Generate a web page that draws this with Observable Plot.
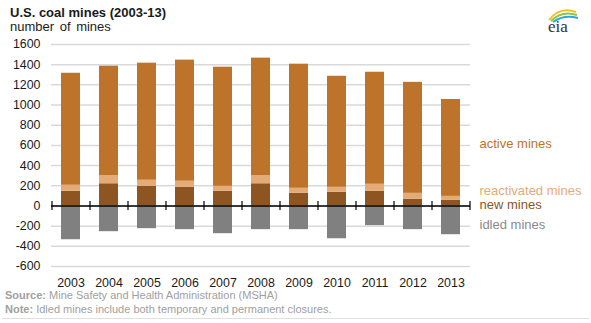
<!DOCTYPE html>
<html>
<head>
<meta charset="utf-8">
<script src="https://cdn.jsdelivr.net/npm/d3@7"></script>
<script src="https://cdn.jsdelivr.net/npm/@observablehq/plot@0.6"></script>
<style>
  html, body { margin: 0; padding: 0; background: #fff; }
  #wrap { position: relative; width: 591px; height: 323px; overflow: hidden; font-family: "Liberation Sans", Arial, sans-serif; }
  #chart { position: absolute; left: 0; top: 0; }
  .title { position: absolute; left: 10px; top: 5px; font-size: 13px; font-weight: bold; color: #1a1a1a; }
  .subtitle { position: absolute; left: 10px; top: 19px; font-size: 13px; color: #1a1a1a; word-spacing: 2px; }
  .foot { position: absolute; left: 5px; font-size: 11px; color: #a0a0a0; white-space: nowrap; }
  .foot b { font-weight: bold; }
  .rule { position: absolute; left: 2px; width: 587px; top: 318px; height: 1px; background: #e0e0e0; }
  .logo { position: absolute; left: 540px; top: 4px; }
</style>
</head>
<body>
<div id="wrap">
  <div id="chart"></div>
  <div class="title">U.S. coal mines (2003-13)</div>
  <div class="subtitle">number of mines</div>
  <div class="foot" style="top:289px"><b>Source:</b> Mine Safety and Health Administration (MSHA)</div>
  <div class="foot" style="top:303px"><b>Note:</b> Idled mines include both temporary and permanent closures.</div>
  <div class="rule"></div>
  <svg class="logo" width="45" height="32" viewBox="0 0 45 32">
    <path d="M9 16 Q20 2 36 8" fill="none" stroke="#f2c12e" stroke-width="2"/>
    <path d="M11 17 Q22 6 37 11" fill="none" stroke="#8dc63f" stroke-width="2"/>
    <path d="M13 18 Q24 10 38 14" fill="none" stroke="#29a8e0" stroke-width="2"/>
    <text x="8" y="28" font-family="Liberation Serif, serif" font-size="17" fill="#333">eia</text>
  </svg>
</div>
<script>
const years = ["2003","2004","2005","2006","2007","2008","2009","2010","2011","2012","2013"];
const newMines     = [145, 220, 195, 185, 145, 220, 125, 135, 145, 65, 55];
const reactivated  = [60, 80, 60, 60, 50, 80, 50, 50, 70, 60, 40];
const totalMines   = [1315, 1385, 1415, 1445, 1375, 1465, 1405, 1285, 1325, 1225, 1055];
const idledMines   = [-335, -255, -225, -235, -275, -235, -235, -325, -195, -235, -285];
const seriesNames  = ["new mines", "reactivated mines", "active mines", "idled mines"];
const seriesColors = ["#8c5521", "#e4ab76", "#bd732a", "#808080"];
const labelColors  = ["#8c5521", "#e4ab76", "#bd732a", "#8a8a8a"];
const yTicks = [-600, -400, -200, 0, 200, 400, 600, 800, 1000, 1200, 1400, 1600];

const activeMines = totalMines.map((t, i) => t - newMines[i] - reactivated[i]);
const rows = [];
years.forEach((year, i) => {
  rows.push({year, series: "new mines", value: newMines[i]});
  rows.push({year, series: "reactivated mines", value: reactivated[i]});
  rows.push({year, series: "active mines", value: activeMines[i]});
  rows.push({year, series: "idled mines", value: idledMines[i]});
});

// legend labels placed beside the last bar's segments
const last = years.length - 1;
const lastMid = {
  "new mines": newMines[last] / 2,
  "reactivated mines": newMines[last] + reactivated[last] / 2,
  "active mines": newMines[last] + reactivated[last] + activeMines[last] / 2,
  "idled mines": idledMines[last] / 2
};
const labelDy = {"new mines": 2, "reactivated mines": -8, "active mines": -4, "idled mines": 4};

const chart = Plot.plot({
  width: 591,
  height: 323,
  marginLeft: 51,
  marginRight: 121,
  marginTop: 44,
  marginBottom: 57,
  style: {fontFamily: "'Liberation Sans', Arial, sans-serif", fontSize: "12.4px", color: "#1a1a1a", background: "transparent"},
  x: {type: "band", domain: years, paddingInner: 0.5, paddingOuter: 0.25, axis: null},
  y: {domain: [-600, 1600], axis: null},
  color: {domain: seriesNames, range: seriesColors},
  marks: [
    Plot.ruleY(yTicks, {stroke: "#d9d9d9", strokeWidth: 1.5}),
    Plot.barY(rows, {x: "year", y: "value", fill: "series", z: "series", order: seriesNames}),
    Plot.ruleY([0], {stroke: "#000", strokeWidth: 1.5}),
    Plot.ruleX(years, {x: d => d, dx: -19, y1: -45, y2: 45, stroke: "#000", strokeWidth: 1.2}),
    Plot.ruleX([years[last]], {x: d => d, dx: 19, y1: -45, y2: 45, stroke: "#000", strokeWidth: 1.2}),
    Plot.axisY({ticks: yTicks, tickSize: 0, tickPadding: 11, label: null, tickFormat: d => String(d)}),
    Plot.axisX({tickSize: 0, tickPadding: 12, label: null}),
    ...seriesNames.map((s, i) => Plot.text([s], {
      text: d => d,
      y: d => lastMid[d],
      frameAnchor: "right",
      dx: 9,
      dy: labelDy[s],
      textAnchor: "start",
      fill: labelColors[i],
      fontSize: 13
    }))
  ]
});
document.getElementById("chart").appendChild(chart);
</script>
</body>
</html>
